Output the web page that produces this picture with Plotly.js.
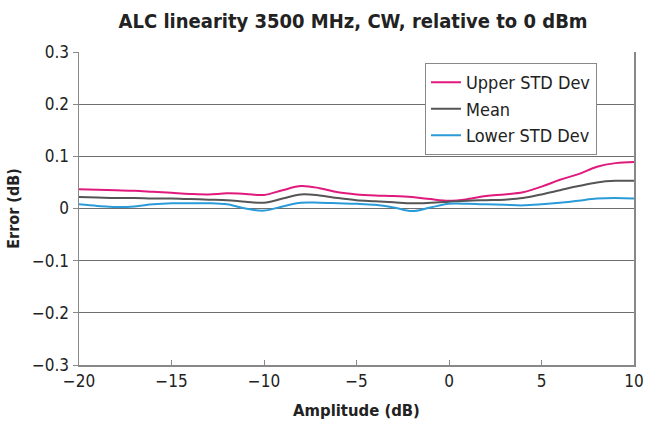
<!DOCTYPE html>
<html>
<head>
<meta charset="utf-8">
<script src="https://cdn.plot.ly/plotly-3.0.1.min.js"></script>
<style>html,body{margin:0;padding:0;background:#fff;}#chart{width:660px;height:429px;}</style>
</head>
<body>
<div id="chart"></div>
<script>
const amplitude = [-20,-19,-18,-17,-16,-15,-14,-13,-12,-11,-10,-9,-8,-7,-6,-5,-4,-3,-2,-1,0,1,2,3,4,5,6,7,8,9,10];
const upperStd = [0.037,0.036,0.035,0.034,0.032,0.030,0.028,0.027,0.029,0.028,0.026,0.035,0.043,0.039,0.031,0.027,0.025,0.024,0.022,0.018,0.015,0.018,0.024,0.027,0.031,0.042,0.055,0.066,0.080,0.087,0.089];
const meanErr = [0.022,0.021,0.020,0.020,0.019,0.019,0.018,0.017,0.016,0.013,0.011,0.019,0.027,0.025,0.020,0.016,0.014,0.012,0.010,0.011,0.013,0.015,0.016,0.017,0.020,0.027,0.035,0.043,0.050,0.053,0.053];
const lowerStd = [0.008,0.005,0.003,0.004,0.008,0.010,0.010,0.010,0.008,0.000,-0.004,0.004,0.011,0.011,0.010,0.009,0.007,0.002,-0.005,0.002,0.009,0.009,0.008,0.007,0.006,0.008,0.011,0.015,0.019,0.020,0.019];
const seriesNames = ["Upper STD Dev","Mean","Lower STD Dev"];
const seriesColors = ["#e0197d","#555555","#2a9bd8"];

const FONT = '"Liberation Sans Narrow", "DejaVu Sans Condensed", "Liberation Sans", sans-serif';
const data = [upperStd, meanErr, lowerStd].map((ys, i) => ({
  x: amplitude, y: ys, type: 'scatter', mode: 'lines', name: seriesNames[i],
  line: {color: seriesColors[i], width: 2, shape: 'spline', smoothing: 1}
}));

const layout = {
  width: 660, height: 429,
  margin: {l: 79, r: 26, t: 52, b: 64},
  paper_bgcolor: '#fff', plot_bgcolor: '#fff',
  font: {family: FONT, size: 17, color: '#222'},
  title: {text: '<b>ALC linearity 3500 MHz, CW, relative to 0 dBm</b>', x: 0.535, xanchor: 'center', y: 0.952, yanchor: 'middle', font: {family: FONT, size: 20, color: '#222'}},
  xaxis: {
    range: [-20, 10], dtick: 5, tick0: -20,
    showgrid: false, zeroline: false,
    showline: true, linecolor: '#888', linewidth: 1.5,
    ticks: 'inside', ticklen: 5, tickcolor: '#888',
    tickfont: {family: FONT, size: 17, color: '#222'},
    title: {text: '<b>Amplitude (dB)</b>', font: {family: FONT, size: 16.5, color: '#222'}, standoff: 14}
  },
  yaxis: {
    range: [-0.3, 0.3], dtick: 0.1, tick0: -0.3,
    showgrid: true, gridcolor: '#6f6f6f', gridwidth: 1,
    zeroline: false,
    showline: true, linecolor: '#888', linewidth: 1.5, mirror: true,
    ticks: 'outside', ticklen: 5, tickcolor: '#888',
    tickfont: {family: FONT, size: 17, color: '#222'},
    title: {text: '<b>Error (dB)</b>', font: {family: FONT, size: 16, color: '#222'}, standoff: 8}
  },
  legend: {
    x: 0.623, y: 0.965, xanchor: 'left', yanchor: 'top',
    bgcolor: '#fff', bordercolor: '#888', borderwidth: 1.2,
    font: {family: FONT, size: 18, color: '#222'},
    tracegroupgap: 0, itemwidth: 30
  },
  showlegend: true
};

Plotly.newPlot('chart', data, layout, {displayModeBar: false, staticPlot: true});
</script>
</body>
</html>
